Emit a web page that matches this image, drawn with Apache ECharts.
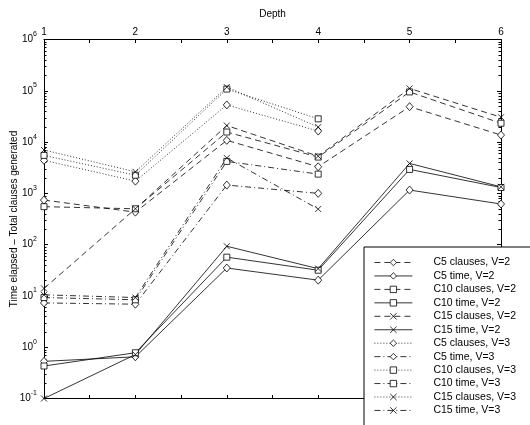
<!DOCTYPE html>
<html><head><meta charset="utf-8">
<script src="https://cdn.jsdelivr.net/npm/echarts@6/dist/echarts.min.js"></script>
<style>html,body{margin:0;padding:0;background:#fff}#c{width:530px;height:425px}</style>
</head><body><div id="c"></div>
<script>
// ---- data ----
const depths = [1, 2, 3, 4, 5, 6];
const xTickLabels = ['1', '2', '3', '4', '5', '6'];
const yTickExponents = [-1, 0, 1, 2, 3, 4, 5, 6];
const seriesNames = ['C5 clauses, V=2', 'C5 time, V=2', 'C10 clauses, V=2', 'C10 time, V=2',
  'C15 clauses, V=2', 'C15 time, V=2', 'C5 clauses, V=3', 'C5 time, V=3',
  'C10 clauses, V=3', 'C10 time, V=3', 'C15 clauses, V=3', 'C15 time, V=3'];
const c5ClausesV2 = [740, 430, 10800, 3300, 49000, 13700];
const c5TimeV2 = [0.53, 0.65, 35, 20.3, 1160, 620];
const c10ClausesV2 = [550, 500, 15700, 5100, 95000, 23300];
const c10TimeV2 = [0.43, 0.78, 57, 31.7, 2930, 1300];
const c15ClausesV2 = [14, 500, 21000, 5300, 111000, 30500];
const c15TimeV2 = [0.1, 0.72, 93, 34, 3830, 1340];
const c5ClausesV3 = [4400, 1730, 53000, 16400];
const c5TimeV3 = [7.3, 6.9, 1450, 1000];
const c10ClausesV3 = [5500, 2260, 108000, 28400];
const c10TimeV3 = [9.3, 8.4, 4200, 2370];
const c15ClausesV3 = [7000, 2630, 118000, 19600];
const c15TimeV3 = [10.5, 9.3, 4900, 495];

// ---- styles ----
const FONT = 'Liberation Sans';
const DASH = [6, 4], DOT = [1, 2], DASHDOT = [6, 3, 1, 3], SOLID = 'solid';
const XPATH = 'path://M0,0L10,10M10,0L0,10';
const seriesValues = [c5ClausesV2, c5TimeV2, c10ClausesV2, c10TimeV2, c15ClausesV2, c15TimeV2,
  c5ClausesV3, c5TimeV3, c10ClausesV3, c10TimeV3, c15ClausesV3, c15TimeV3];
const lineTypes = [DASH, SOLID, DASH, SOLID, DASH, SOLID, DOT, DASHDOT, DOT, DASHDOT, DOT, DASHDOT];
const markers = ['diamond', 'diamond', 'rect', 'rect', XPATH, XPATH, 'diamond', 'diamond', 'rect', 'rect', XPATH, XPATH];
const markerSizes = { 'diamond': [7, 8], 'rect': 6 };

const series = seriesNames.map((name, i) => ({
  name: name,
  type: 'line',
  data: seriesValues[i].map((v, j) => [depths[j], v]),
  symbol: markers[i],
  symbolSize: markerSizes[markers[i]] || 6,
  lineStyle: { color: '#000', width: 0.8, type: lineTypes[i] },
  itemStyle: { color: '#fff', borderColor: '#000', borderWidth: 0.8 },
  emphasis: { disabled: true },
  silent: true,
  z: 3
}));

// minor ticks on log y axes (2..9 x 10^k), at left (x=1) and right (x=6)
const minorTickData = [];
for (let k = -1; k < 6; k++) {
  for (let m = 2; m <= 9; m++) {
    minorTickData.push([1, m * Math.pow(10, k)]);
    minorTickData.push([6, m * Math.pow(10, k)]);
  }
}
series.push({
  type: 'custom',
  silent: true,
  data: minorTickData,
  clip: false,
  z: 2,
  renderItem: function (params, api) {
    const side = api.value(0);
    const p = api.coord([side, api.value(1)]);
    const dir = side === 1 ? 1 : -1;
    const y = Math.round(p[1]) + 0.5;
    return { type: 'line', shape: { x1: p[0], y1: y, x2: p[0] + dir * 2.5, y2: y },
      style: { stroke: '#000', lineWidth: 1 } };
  }
});

const xLabelFmt = v => (Number.isInteger(v) ? xTickLabels[depths.indexOf(v)] || '' : '');
const yLabelFmt = v => {
  const e = Math.round(Math.log10(v));
  return yTickExponents.indexOf(e) >= 0 ? '{b|10}{s|' + e + '}' : '';
};

const axisCommon = {
  axisLine: { show: true, lineStyle: { color: '#000', width: 1 } },
  axisTick: { show: true, inside: true, length: 4, lineStyle: { color: '#000', width: 1 } },
  splitLine: { show: false }
};

const chart = echarts.init(document.getElementById('c'), null, { renderer: 'canvas' });
chart.setOption({
  animation: false,
  backgroundColor: '#fff',
  grid: { left: 44, right: 29, top: 39.5, bottom: 26.5, containLabel: false, outerBoundsMode: 'none' },
  xAxis: [
    Object.assign({}, axisCommon, {
      type: 'value', position: 'top', min: 1, max: 6, interval: 0.5,
      name: 'Depth', nameLocation: 'middle', nameGap: 20, nameMoveOverlap: false,
      nameTextStyle: { fontFamily: FONT, fontSize: 10, color: '#000' },
      axisTick: { show: true, inside: true, length: 3.5, lineStyle: { color: '#000', width: 1 } },
      axisLabel: { formatter: xLabelFmt, margin: 2, fontFamily: FONT, fontSize: 10, color: '#000',
        showMinLabel: true, showMaxLabel: true, hideOverlap: false }
    }),
    Object.assign({}, axisCommon, {
      type: 'value', position: 'bottom', min: 1, max: 6, interval: 0.5,
      axisTick: { show: true, inside: true, length: 3.5, lineStyle: { color: '#000', width: 1 } },
      axisLabel: { show: false }
    })
  ],
  yAxis: [
    Object.assign({}, axisCommon, {
      type: 'log', logBase: 10, min: 0.1, max: 1e6, splitNumber: 7, position: 'left',
      name: 'Time elapsed – Total clauses generated', nameLocation: 'middle', nameGap: 25, nameMoveOverlap: false,
      nameTextStyle: { fontFamily: FONT, fontSize: 10, color: '#000' },
      axisLabel: {
        formatter: yLabelFmt, margin: 7, fontFamily: FONT, color: '#000',
        showMinLabel: true, showMaxLabel: true, hideOverlap: false,
        rich: {
          b: { fontFamily: FONT, fontSize: 10, color: '#000', lineHeight: 18, verticalAlign: 'middle' },
          s: { fontFamily: FONT, fontSize: 7, color: '#000', verticalAlign: 'top', lineHeight: 9 }
        }
      }
    }),
    Object.assign({}, axisCommon, {
      type: 'log', logBase: 10, min: 0.1, max: 1e6, splitNumber: 7, position: 'right',
      axisLabel: { show: false }
    })
  ],
  legend: {
    orient: 'vertical', left: 364, top: 247, height: 190, width: 150,
    padding: [10, 40, 40, 10],
    itemWidth: 38, itemHeight: 8, itemGap: 2.45,
    backgroundColor: '#fff', borderColor: '#000', borderWidth: 1, borderRadius: 0,
    selectedMode: false,
    lineStyle: { width: 0.8 },
    itemStyle: { borderWidth: 0.8 },
    textStyle: { fontFamily: FONT, fontSize: 10.5, color: '#000', padding: [0, 0, 0, 16], lineHeight: 9 },
    data: seriesNames,
    z: 10
  },
  series: series
});
</script>
</body></html>
